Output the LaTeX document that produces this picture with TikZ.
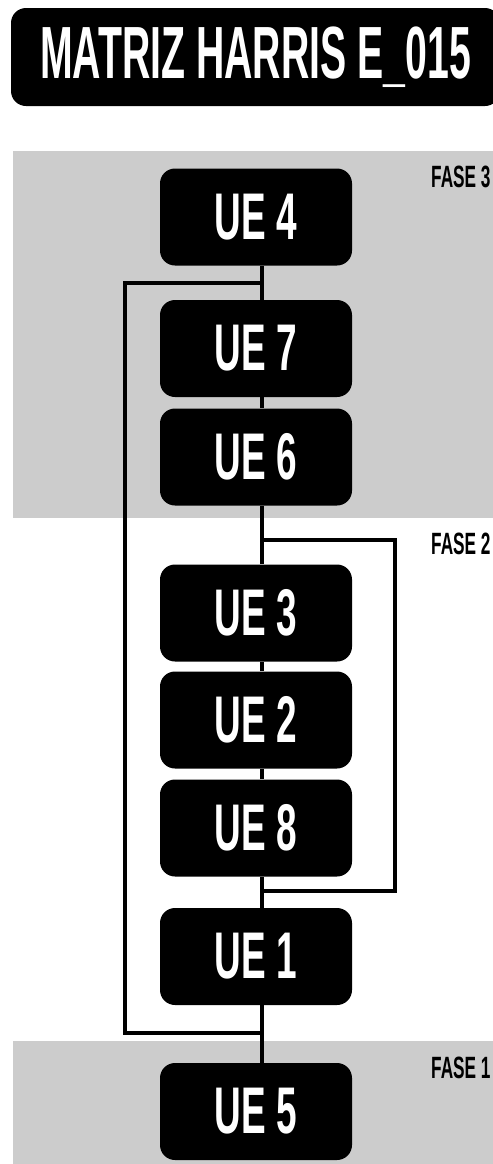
\documentclass[tikz,border=0pt]{standalone}
\usepackage{fontspec}
\usepackage{tikz}
\usetikzlibrary{positioning}
\newfontfamily\cartel{Liberation Sans}[FakeStretch=0.56]
\newfontfamily\cartelt{Liberation Sans}[FakeStretch=0.53]
\definecolor{fondofase}{HTML}{CCCCCC}
\tikzstyle{unidad}=[fill=black, text=white, rounded corners=7.5pt,
  minimum width=96pt, minimum height=48.5pt, inner sep=0pt,
  font=\cartel\bfseries\fontsize{33}{33}\selectfont]
\tikzstyle{titulo}=[unidad, minimum width=244.5pt, minimum height=49pt,
  font=\cartelt\bfseries\fontsize{37}{37}\selectfont]
\tikzstyle{fase}=[anchor=north east, inner sep=0pt,
  font=\cartel\bfseries\fontsize{15.4}{15.4}\selectfont]
\tikzstyle{banda}=[fill=fondofase, draw=none]
\tikzstyle{line}=[draw, line width=1.6pt, color=black]
\newcommand{\etapa}[2]{node (#1) [unidad] {#2}}

\begin{document}
\begin{tikzpicture}[x=0.5pt, y=-0.5pt]
  \useasboundingbox (0,0) rectangle (493,1164);

  % bandas de fase
  \path[banda] (13,151) rectangle (493,518);
  \path[banda] (13,1041) rectangle (493,1164);

  % titulo
  \path (255.5,57) node (TITULO) [titulo] {MATRIZ HARRIS E\_015};

  % etiquetas de fase
  \path (491,166) node (FASE3) [fase] {FASE 3};
  \path (491,533) node (FASE2) [fase] {FASE 2};
  \path (491,1057) node (FASE1) [fase] {FASE 1};

  % unidades
  \path (256,217) \etapa{UE4}{UE 4};
  \path (256,348.5) \etapa{UE7}{UE 7};
  \path (256,457) \etapa{UE6}{UE 6};
  \path (256,613) \etapa{UE3}{UE 3};
  \path (256,720) \etapa{UE2}{UE 2};
  \path (256,828) \etapa{UE8}{UE 8};
  \path (256,956.5) \etapa{UE1}{UE 1};
  \path (256,1111.5) \etapa{UE5}{UE 5};

  % eje vertical
  \coordinate (EJE) at (262,0);
  \path [line] (UE4.south -| EJE) -- (UE7.north -| EJE);
  \path [line] (UE7.south -| EJE) -- (UE6.north -| EJE);
  \path [line] (UE6.south -| EJE) -- (UE3.north -| EJE);
  \path [line] (UE3.south -| EJE) -- (UE2.north -| EJE);
  \path [line] (UE2.south -| EJE) -- (UE8.north -| EJE);
  \path [line] (UE8.south -| EJE) -- (UE1.north -| EJE);
  \path [line] (UE1.south -| EJE) -- (UE5.north -| EJE);

  % bucles laterales
  \coordinate (IZQA) at (262,283);
  \coordinate (IZQB) at (262,1033);
  \coordinate (IZQX) at (125,0);
  \path [line] (IZQA) -- (IZQA -| IZQX) -- (IZQB -| IZQX) -- (IZQB);
  \coordinate (DERA) at (262,540);
  \coordinate (DERB) at (262,891);
  \coordinate (DERX) at (395,0);
  \path [line] (DERA) -- (DERA -| DERX) -- (DERB -| DERX) -- (DERB);
\end{tikzpicture}
\end{document}
